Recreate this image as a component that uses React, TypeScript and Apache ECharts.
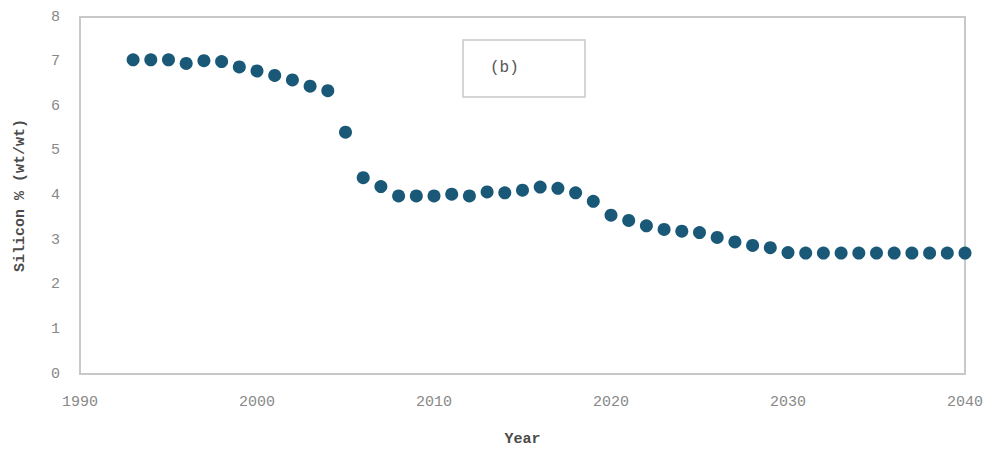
import React, { useEffect, useRef } from "react";
import * as echarts from "echarts";

const years: number[] = [
  1993, 1994, 1995, 1996, 1997, 1998, 1999, 2000, 2001, 2002, 2003, 2004, 2005, 2006, 2007, 2008,
  2009, 2010, 2011, 2012, 2013, 2014, 2015, 2016, 2017, 2018, 2019, 2020, 2021, 2022, 2023, 2024,
  2025, 2026, 2027, 2028, 2029, 2030, 2031, 2032, 2033, 2034, 2035, 2036, 2037, 2038, 2039, 2040,
];
const silicon: number[] = [
  7.04, 7.04, 7.04, 6.96, 7.02, 7.0, 6.88, 6.79, 6.69, 6.59, 6.45, 6.35, 5.42, 4.4, 4.2, 3.99,
  3.99, 3.99, 4.03, 3.99, 4.08, 4.06, 4.12, 4.19, 4.16, 4.06, 3.87, 3.56, 3.44, 3.32, 3.24, 3.2,
  3.17, 3.06, 2.96, 2.88, 2.83, 2.72, 2.71, 2.71, 2.71, 2.71, 2.71, 2.71, 2.71, 2.71, 2.71, 2.71,
];
const legendLabel = "(b)";
const xTitle = "Year";
const yTitle = "Silicon % (wt/wt)";

export default function App() {
  const ref = useRef<HTMLDivElement>(null);
  useEffect(() => {
    if (!ref.current) return;
    const chart = echarts.init(ref.current, undefined, { renderer: "svg" });
    const font = "'Liberation Mono', 'DejaVu Sans Mono', monospace";
    chart.setOption({
      animation: false,
      backgroundColor: "#ffffff",
      grid: {
        left: 80,
        right: 30,
        top: 17,
        bottom: 81,
        show: true,
        borderColor: "#c8c8c8",
        borderWidth: 2,
      },
      xAxis: {
        type: "value",
        min: 1990,
        max: 2040,
        interval: 10,
        name: xTitle,
        nameLocation: "middle",
        nameGap: 58,
        nameTextStyle: { fontFamily: font, fontWeight: "bold", fontSize: 15, color: "#4a4a4a" },
        axisLine: { show: true, lineStyle: { color: "#c8c8c8", width: 2 } },
        axisTick: { show: false },
        splitLine: { show: false },
        axisLabel: {
          fontFamily: font,
          fontSize: 15,
          color: "#888",
          margin: 21,
          formatter: (v: number) => String(v),
        },
      },
      yAxis: {
        type: "value",
        min: 0,
        max: 8,
        interval: 1,
        name: yTitle,
        nameLocation: "middle",
        nameGap: 52,
        nameTextStyle: { fontFamily: font, fontWeight: "bold", fontSize: 15, color: "#4a4a4a" },
        axisLine: { show: true, lineStyle: { color: "#c8c8c8", width: 2 } },
        axisTick: { show: false },
        splitLine: { show: false },
        axisLabel: { fontFamily: font, fontSize: 15, color: "#888", margin: 20 },
      },
      graphic: [
        {
          type: "rect",
          shape: { x: 463, y: 40, width: 122, height: 57 },
          style: { fill: "#fff", stroke: "#c8c8c8", lineWidth: 1.5 },
        },
        {
          type: "text",
          x: 490,
          y: 60,
          style: { text: legendLabel, fontFamily: font, fontSize: 16, fill: "#555" },
        },
      ],
      series: [
        {
          type: "scatter",
          data: years.map((y, i) => [y, silicon[i]]),
          symbol: "circle",
          symbolSize: 13,
          itemStyle: { color: "#1a5878", opacity: 1 },
        },
      ],
    });
    return () => chart.dispose();
  }, []);
  return <div ref={ref} style={{ width: 995, height: 455, position: "absolute", left: 0, top: 0 }} />;
}
